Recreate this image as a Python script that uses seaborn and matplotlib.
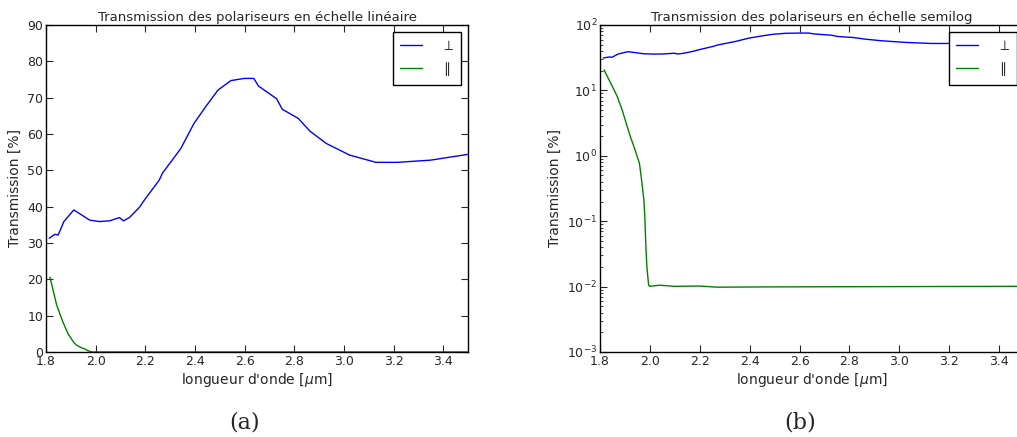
import numpy as np
import pandas as pd
import matplotlib
matplotlib.use("Agg")
import matplotlib.pyplot as plt
import seaborn as sns

# longueurs d'onde (um) et transmission (%)
x_perp = [1.813, 1.836, 1.849, 1.872, 1.912, 1.976, 2.016, 2.056, 2.096, 2.112,
          2.136, 2.176, 2.196, 2.256, 2.269, 2.343, 2.396, 2.443, 2.493, 2.545,
          2.599, 2.637, 2.656, 2.729, 2.752, 2.816, 2.863, 2.929, 3.023, 3.129,
          3.216, 3.349, 3.5]
t_perp = [31.3, 32.4, 32.2, 35.9, 39.1, 36.3, 35.9, 36.1, 37.0, 36.1,
          37.0, 39.8, 41.8, 47.3, 49.2, 56.0, 62.9, 67.5, 72.1, 74.7,
          75.3, 75.3, 73.2, 69.7, 66.8, 64.3, 60.8, 57.4, 54.2, 52.2,
          52.2, 52.8, 54.4]

x_par = [1.816, 1.843, 1.869, 1.889, 1.913, 1.923, 1.94, 1.958, 1.966, 1.976,
         1.98, 1.984, 1.988, 1.995, 2.0, 2.04, 2.1, 2.2, 2.27, 2.5, 3.0, 3.5]
t_par = [20.6, 12.9, 8.1, 5.0, 2.5, 1.9, 1.25, 0.77, 0.45, 0.21,
         0.11, 0.04, 0.02, 0.0105, 0.0101, 0.0105, 0.0101, 0.0102, 0.0098, 0.0099,
         0.01, 0.0101]

labels = [r'$\perp$', r'$\parallel$']

df = pd.concat([
    pd.DataFrame({'lambda': x_perp, 'T': t_perp, 'pol': labels[0]}),
    pd.DataFrame({'lambda': x_par, 'T': t_par, 'pol': labels[1]}),
])

sns.set_style('ticks', {'xtick.direction': 'in', 'ytick.direction': 'in',
                        'axes.edgecolor': 'black'})
plt.rcParams['xtick.top'] = True
plt.rcParams['ytick.right'] = True
plt.rcParams['font.family'] = ['DejaVu Sans']

pal = {labels[0]: (0, 0, 1), labels[1]: (0, 0.5, 0)}

fig = plt.figure(figsize=(10.17, 4.37), dpi=100)
W, H = 1017, 437
ax1 = fig.add_axes([46 / W, 1 - 352 / H, 422 / W, 327 / H])
ax2 = fig.add_axes([600 / W, 1 - 352 / H, 424 / W, 327 / H])

for ax in (ax1, ax2):
    sns.lineplot(data=df, x='lambda', y='T', hue='pol', palette=pal,
                 estimator=None, linewidth=1, ax=ax)
    ax.set_xlim(1.8, 3.5)
    ax.set_xticks(np.arange(1.8, 3.41, 0.2))
    ax.set_xlabel(r"longueur d'onde [$\mu$m]", fontsize=10, labelpad=2)
    ax.set_ylabel('Transmission [%]', fontsize=10)
    ax.tick_params(labelsize=9, length=5, width=0.8, pad=2)
    for s in ax.spines.values():
        s.set_linewidth(1)
        s.set_color('black')
    leg = ax.legend(loc='upper right', fancybox=False, edgecolor='black',
                    framealpha=1, fontsize=10, handlelength=1.6,
                    handletextpad=1.3, borderaxespad=0.5, borderpad=0.5)
    leg.get_frame().set_linewidth(1)

ax1.set_ylim(0, 90)
ax1.set_yticks(range(0, 91, 10))
ax1.set_title('Transmission des polariseurs en échelle linéaire', fontsize=9.5, pad=3)

ax2.set_yscale('log')
ax2.set_ylim(1e-3, 1e2)
ax2.set_title('Transmission des polariseurs en échelle semilog', fontsize=9.5, pad=3)
ax2.tick_params(which='minor', length=2.5, direction='in')

fig.text(245 / W, 1 - 423 / H, '(a)', fontsize=16, ha='center', va='center',
         family='DejaVu Serif', math_fontfamily='cm')
fig.text(800 / W, 1 - 423 / H, '(b)', fontsize=16, ha='center', va='center',
         family='DejaVu Serif', math_fontfamily='cm')

fig.savefig('out.png', dpi=100)
